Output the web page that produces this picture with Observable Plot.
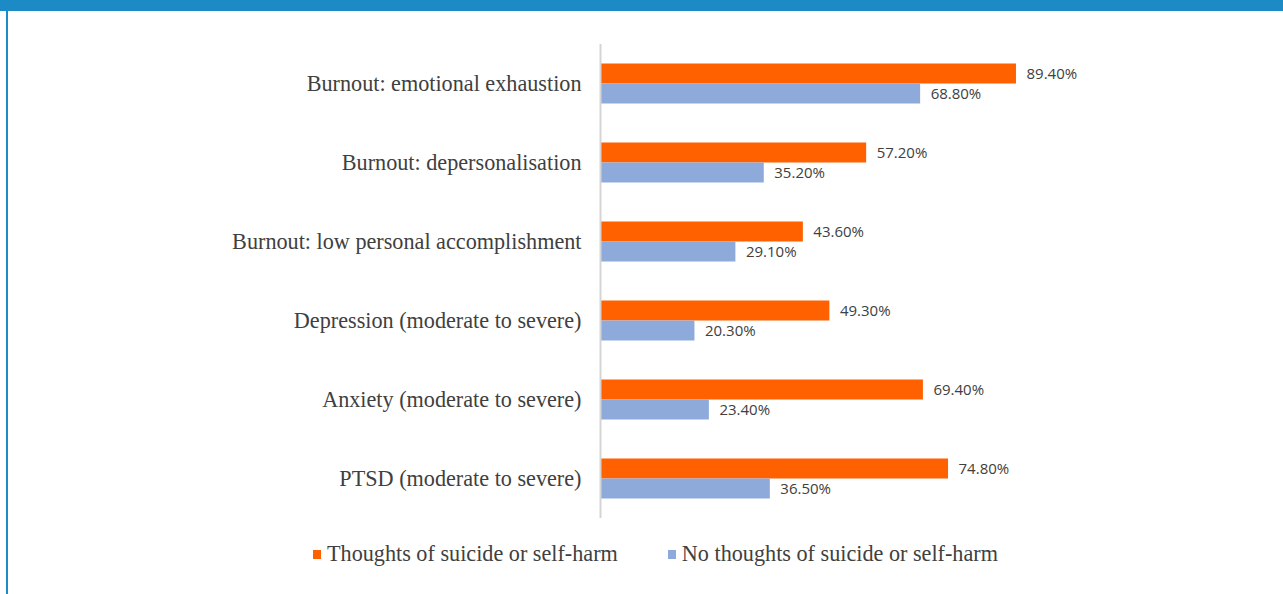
<!DOCTYPE html>
<html><head><meta charset="utf-8">
<script src="https://cdn.jsdelivr.net/npm/d3@7"></script>
<script src="https://cdn.jsdelivr.net/npm/@observablehq/plot@0.6"></script>
<style>
body{margin:0;background:#fff;width:1283px;height:594px;overflow:hidden;position:relative}
#band{position:absolute;left:0;top:0;width:1283px;height:11px;background:#1c8ac4;z-index:2}
#lborder{position:absolute;left:6px;top:0;width:2px;height:594px;background:#1c8ac4;z-index:2}
#chart{position:absolute;left:0;top:0}
#legend{position:absolute;top:541px;left:313px;display:flex;align-items:center;font-family:"Liberation Serif";font-size:22.2px;color:#404040;white-space:nowrap}
#legend .sw{display:inline-block;width:8px;height:9px;margin-right:6px}
#legend .item{display:flex;align-items:center}
</style>
</head><body>
<div id="band"></div><div id="lborder"></div>
<div id="chart"></div>
<div id="legend"></div>
<script>
const categories = [
  "Burnout: emotional exhaustion",
  "Burnout: depersonalisation",
  "Burnout: low personal accomplishment",
  "Depression (moderate to severe)",
  "Anxiety (moderate to severe)",
  "PTSD (moderate to severe)"
];
const series = ["Thoughts of suicide or self-harm", "No thoughts of suicide or self-harm"];
const thoughts = [89.4, 57.2, 43.6, 49.3, 69.4, 74.8];
const noThoughts = [68.8, 35.2, 29.1, 20.3, 23.4, 36.5];
const colors = ["#ff6100", "#8eaadb"];

const data = categories.flatMap((c, i) => [
  {category: c, series: series[0], value: thoughts[i]},
  {category: c, series: series[1], value: noThoughts[i]}
]);

const chart = Plot.plot({
  width: 1283, height: 530,
  marginLeft: 600, marginRight: 217.7, marginTop: 43.5, marginBottom: 12.5,
  x: {domain: [0, 100], axis: null},
  y: {domain: series, axis: null, paddingInner: 0, paddingOuter: 0.975},
  fy: {domain: categories, padding: 0, label: null},
  color: {domain: series, range: colors},
  style: {fontFamily: "Liberation Serif", fontSize: "22.2px", color: "#404040", background: "transparent"},
  marks: [
    Plot.barX(data, {fy: "category", y: "series", x: "value", fill: "series"}),
    Plot.ruleX([0], {stroke: "#d4d4d4", strokeWidth: 2}),
    Plot.text(data, {fy: "category", y: "series", x: "value", text: d => d.value.toFixed(2) + "%",
      dx: 10, dy: 0, textAnchor: "start", fontFamily: "Open Sans", fontSize: 15, fill: "#404040"}),
    Plot.axisFy({anchor: "left", tickSize: 0, tickPadding: 19, label: null, fontSize: 22.2, fontFamily: "Liberation Serif", fill: "#404040"})
  ]
});
document.getElementById("chart").appendChild(chart);

const legend = document.getElementById("legend");
series.forEach((s, i) => {
  const item = document.createElement("span");
  item.className = "item";
  if (i > 0) item.style.marginLeft = "50px";
  const sw = document.createElement("span");
  sw.className = "sw";
  sw.style.background = colors[i];
  item.appendChild(sw);
  item.appendChild(document.createTextNode(s));
  legend.appendChild(item);
});
</script>
</body></html>
